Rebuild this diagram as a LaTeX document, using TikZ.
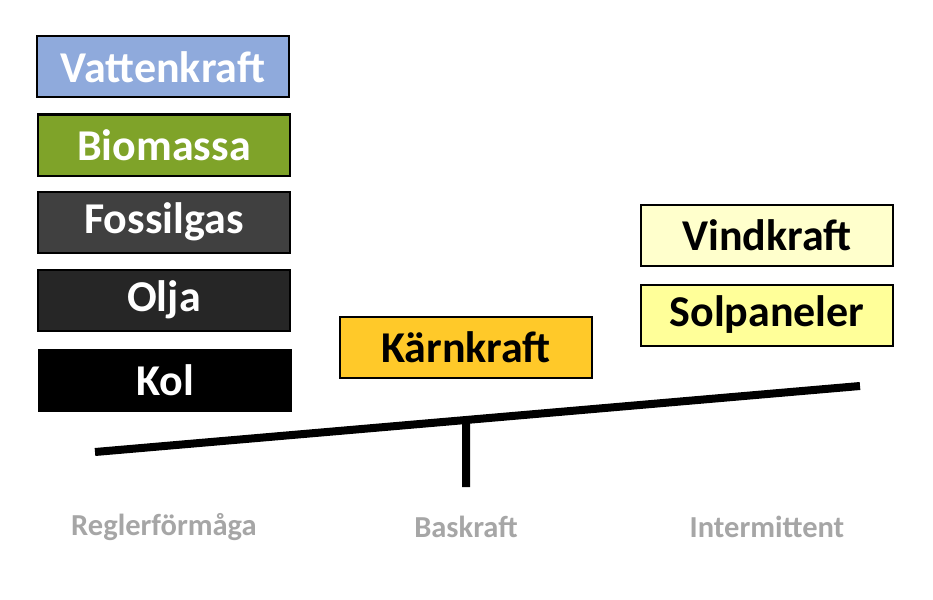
\documentclass[tikz,border=0pt]{standalone}
\usepackage{fontspec}
\setmainfont{Carlito}
\usetikzlibrary{calc,positioning}
\definecolor{vatten}{HTML}{8FAADC}
\definecolor{bio}{HTML}{7FA329}
\definecolor{fossil}{HTML}{404040}
\definecolor{olja}{HTML}{262626}
\definecolor{karn}{HTML}{FFC929}
\definecolor{vind}{HTML}{FFFFCC}
\definecolor{sol}{HTML}{FFFF99}
\definecolor{etikett}{HTML}{A6A6A6}
\tikzset {
  box/.style={draw=black, line width=2pt, minimum width=252pt,
    minimum height=61pt, inner sep=0pt,
    font=\fontsize{44}{46}\selectfont\bfseries},
  label text/.style={text=etikett, font=\fontsize{30.5}{32}\selectfont\bfseries},
}

\begin{document}
\begin{tikzpicture}[x=1pt,y=-1pt]
          \useasboundingbox (0,0) rectangle (933,599);
          \node[box,fill=vatten,text=white] (vatten) at (163,67) {Vattenkraft};
          \node[box,fill=bio,text=white] (bio) at (164,145) {Biomassa};
          \node[box,fill=fossil,text=white] (fossil) at (164,222) {Fossilgas};
          \node[box,fill=olja,text=white] (olja) at (164,300) {Olja};
          \node[box,fill=black,text=white] (kol) at (165,380) {Kol};
          \node[box,fill=karn] (karn) at (466,347) {Kärnkraft};
          \node[box,fill=vind] (vind) at (767,235) {Vindkraft};
          \node[box,fill=sol] (sol) at (767,315) {Solpaneler};
          % vågen
          \coordinate (beamL) at (95,452);
          \coordinate (beamR) at (860,386);
          \coordinate (foot) at (466,487);
          \draw[line width=8pt] (beamL) -- (beamR);
          \draw[line width=8pt] ($(beamL)!0.485!(beamR)$) -- (foot);
          \node[label text] (regler) at (164,527) {Reglerförmåga};
          \node[label text] (bas) at (466,527) {Baskraft};
          \node[label text] (inter) at (767,527) {Intermittent};
        \end{tikzpicture}
\end{document}
